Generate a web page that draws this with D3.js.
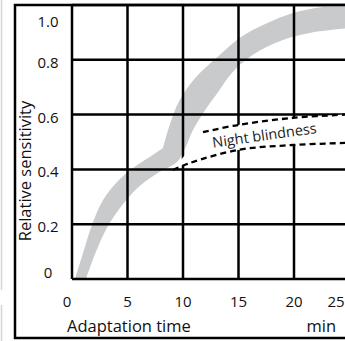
<!DOCTYPE html>
<html>
<head>
<meta charset="utf-8">
<script src="https://cdn.jsdelivr.net/npm/d3@7"></script>
<style>
  body { margin: 0; background: #fff; }
  svg { display: block; font-family: "Open Sans", sans-serif; }
</style>
</head>
<body>
<svg id="chart"></svg>
<script>
var xTicks = [0, 5, 10, 15, 20, 25];
var yTicks = [0, 0.2, 0.4, 0.6, 0.8, 1.0];
var yTickLabels = ["0", "0.2", "0.4", "0.6", "0.8", "1.0"];

// grey band edges, [minutes, relative sensitivity]
var bandUpperCone = [[0.27, 0], [1.08, 0.106], [1.8, 0.197], [2.8, 0.288], [4.05, 0.354],
                     [5.5, 0.405], [7.0, 0.445], [8.2, 0.478]];
var bandUpperRod = [[8.2, 0.478], [8.8, 0.562], [9.7, 0.653], [11.1, 0.734], [13.1, 0.81],
                    [15.1, 0.88], [17.6, 0.934], [19.9, 0.971], [22.6, 0.993], [25.1, 1.0]];
var bandLower = [[1.26, 0], [2.16, 0.099], [3.24, 0.193], [4.6, 0.274], [6.1, 0.339],
                 [7.9, 0.391], [9.46, 0.427], [10.2, 0.478], [10.9, 0.544], [12.0, 0.617],
                 [13.15, 0.682], [14.4, 0.752], [16.3, 0.818], [19.0, 0.872], [21.4, 0.898],
                 [25.1, 0.916]];

// night blindness curves (dashed)
var nightUpper = [[11.8, 0.536], [14.95, 0.562], [19.9, 0.588], [25.1, 0.601]];
var nightLower = [[9.1, 0.398], [10.6, 0.423], [14.95, 0.471], [19.9, 0.489], [25.1, 0.497]];

var width = 345, height = 341;
var svg = d3.select("#chart").attr("width", width).attr("height", height);

var x = d3.scaleLinear().domain([0, 25]).range([72, 349.5]);
var y = d3.scaleLinear().domain([0, 1]).range([279, 5]);

// faint edge lines at the far left
svg.append("line").attr("x1", 1.5).attr("x2", 1.5).attr("y1", 0).attr("y2", 290)
  .attr("stroke", "#d4d4d4").attr("stroke-width", 1.5);
svg.append("line").attr("x1", 1.5).attr("x2", 1.5).attr("y1", 305).attr("y2", height)
  .attr("stroke", "#d4d4d4").attr("stroke-width", 1.5);

// outer frame
svg.append("rect").attr("x", 15).attr("y", 5).attr("width", 360).attr("height", 333)
  .attr("fill", "none").attr("stroke", "#000").attr("stroke-width", 2.5);

var edge = d3.line()
  .x(function(d) { return x(d[0]); })
  .y(function(d) { return y(d[1]); })
  .curve(d3.curveCatmullRom);

var bandPath = edge(bandUpperCone) + edge(bandUpperRod).replace(/^M/, "L") +
  edge(bandLower.slice().reverse()).replace(/^M/, "L") + "Z";
svg.append("path").attr("d", bandPath).attr("fill", "#c9cacc");

// grid
svg.selectAll(".hgrid").data(yTicks).enter().append("line")
  .attr("x1", x(0)).attr("x2", width + 5)
  .attr("y1", function(d) { return y(d); }).attr("y2", function(d) { return y(d); })
  .attr("stroke", "#000").attr("stroke-width", 2.5);
svg.selectAll(".vgrid").data(xTicks).enter().append("line")
  .attr("x1", function(d) { return x(d); }).attr("x2", function(d) { return x(d); })
  .attr("y1", y(1)).attr("y2", y(0))
  .attr("stroke", "#000").attr("stroke-width", 2.5);

// white area between the night blindness curves hides the grid
var nightArea = edge(nightUpper) + edge(nightLower.slice().reverse()).replace(/^M/, "L") + "Z";
svg.append("path").attr("d", nightArea).attr("fill", "#fff");

[nightUpper, nightLower].forEach(function(pts) {
  svg.append("path").attr("d", edge(pts)).attr("fill", "none")
    .attr("stroke", "#000").attr("stroke-width", 2.3).attr("stroke-dasharray", "6,4");
});

svg.append("text")
  .attr("transform", "translate(" + x(17.4) + "," + y(0.506) + ") rotate(-8)")
  .attr("text-anchor", "middle").attr("font-size", 14.5).attr("fill", "#222")
  .text("Night blindness");

// tick labels
svg.selectAll(".ylab").data(yTicks).enter().append("text")
  .attr("x", 48)
  .attr("y", function(d) { return Math.min(Math.max(y(d) + 8, 27), 278); })
  .attr("text-anchor", "middle").attr("font-size", 15).attr("fill", "#111")
  .text(function(d, i) { return yTickLabels[i]; });

svg.selectAll(".xlab").data(xTicks).enter().append("text")
  .attr("x", function(d) { return d === 0 ? x(d) - 5 : Math.min(x(d), 336); })
  .attr("y", 307)
  .attr("text-anchor", "middle").attr("font-size", 15).attr("fill", "#111")
  .text(function(d) { return d; });

// axis titles
svg.append("text").attr("x", 67).attr("y", 332).attr("font-size", 16.5).attr("fill", "#111")
  .text("Adaptation time");
svg.append("text").attr("x", 336).attr("y", 332).attr("text-anchor", "end")
  .attr("font-size", 16.5).attr("fill", "#111").text("min");
svg.append("text")
  .attr("transform", "translate(31,171) rotate(-90)")
  .attr("text-anchor", "middle").attr("font-size", 16.5).attr("fill", "#111")
  .text("Relative sensitivity");
</script>
</body>
</html>
